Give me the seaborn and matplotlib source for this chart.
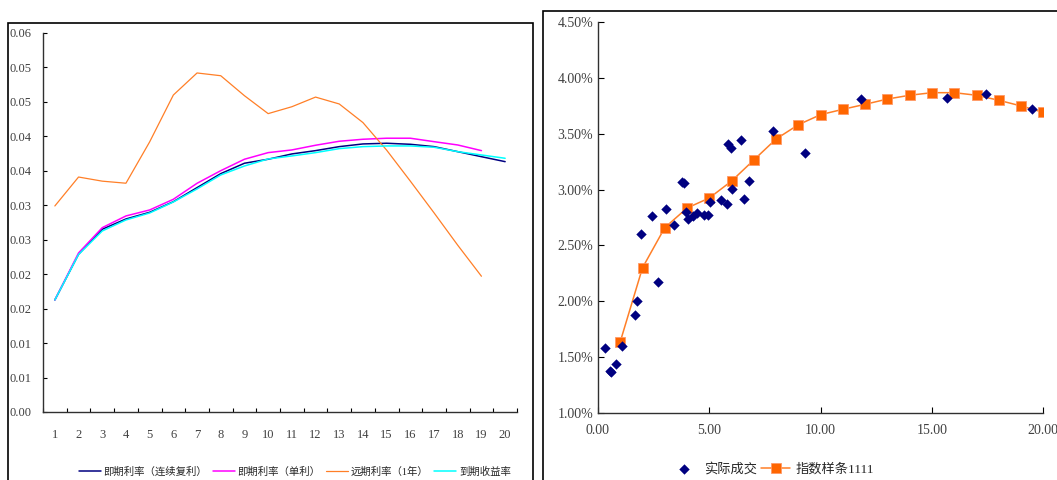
import matplotlib
matplotlib.use('Agg')
import matplotlib.pyplot as plt
from matplotlib.patches import Rectangle
from matplotlib.ticker import FuncFormatter, MultipleLocator, FixedLocator
import seaborn as sns
import pandas as pd

sns.set_style('white')
plt.rcParams['font.family'] = ['Liberation Serif', 'Noto Sans CJK SC', 'DejaVu Sans']
plt.rcParams['axes.unicode_minus'] = False

# 左图：期限结构
terms = list(range(1, 21))
spot_cont = [0.01626, 0.02289, 0.02652, 0.02801, 0.02898, 0.03052, 0.03256, 0.03459, 0.03610, 0.03668,
             0.03745, 0.03793, 0.03851, 0.03890, 0.03900, 0.03885, 0.03851, 0.03778, 0.03705, 0.03633]
spot_simple = [0.01626, 0.02308, 0.02675, 0.02845, 0.02932, 0.03087, 0.03319, 0.03502, 0.03668, 0.03764,
               0.03803, 0.03871, 0.03929, 0.03958, 0.03973, 0.03973, 0.03923, 0.03875, 0.03793]
forward_1y = [0.0299, 0.0341, 0.0335, 0.0332, 0.0392, 0.0460, 0.0492, 0.0488, 0.0459, 0.0433,
              0.0443, 0.0457, 0.0447, 0.0420, 0.0380, 0.0335, 0.0289, 0.0242, 0.0197]
ytm = [0.01626, 0.02286, 0.02627, 0.02787, 0.02888, 0.03048, 0.03237, 0.03440, 0.03570, 0.03672,
       0.03716, 0.03764, 0.03822, 0.03851, 0.03861, 0.03861, 0.03842, 0.03778, 0.03730, 0.03682]
series_names = ['即期利率（连续复利）', '即期利率（单利）', '远期利率（1年）', '到期收益率']
series_colors = ['#000080', '#FF00FF', '#FF7F27', '#00FFFF']

# 右图：实际成交与样条
deal_x = [0.33, 0.55, 0.60, 0.82, 1.06, 1.65, 1.75, 1.93, 2.44, 2.71, 3.07, 3.41, 3.77, 3.86, 3.94,
          4.06, 4.25, 4.43, 4.78, 4.93, 5.03, 5.53, 5.78, 5.85, 5.96, 6.01, 6.44, 6.56, 6.79, 7.86,
          9.29, 11.81, 15.69, 17.42, 19.51]
deal_y = [1.577, 1.377, 1.368, 1.439, 1.598, 1.876, 2.004, 2.600, 2.761, 2.174, 2.829, 2.680, 3.071,
          3.059, 2.799, 2.739, 2.763, 2.788, 2.772, 2.772, 2.892, 2.904, 2.868, 3.409, 3.370, 3.003,
          3.442, 2.913, 3.075, 3.526, 3.326, 3.810, 3.821, 3.854, 3.720]
spline_x = list(range(1, 21))
spline_y = [1.637, 2.300, 2.659, 2.835, 2.925, 3.077, 3.266, 3.454, 3.582, 3.672,
            3.720, 3.765, 3.812, 3.846, 3.869, 3.869, 3.846, 3.801, 3.750, 3.693]

rows = []
for name, vals in zip(series_names, [spot_cont, spot_simple, forward_1y, ytm]):
    for t, v in zip(terms, vals):
        rows.append({'term': t, 'rate': v, 'series': name})
curve_df = pd.DataFrame(rows)
deal_df = pd.DataFrame({'x': deal_x, 'y': [v / 100 for v in deal_y]})
spline_df = pd.DataFrame({'x': spline_x, 'y': [v / 100 for v in spline_y]})

fig = plt.figure(figsize=(10.57, 4.8), dpi=100)
tick_color = '#404040'

# 图表外框
fig.patches.append(Rectangle((8 / 1057, -0.1), 525 / 1057, 1.1 - 23 / 480, transform=fig.transFigure,
                             fill=False, edgecolor='black', linewidth=1.2))
fig.patches.append(Rectangle((543 / 1057, -0.1), 0.6, 1.1 - 10.7 / 480, transform=fig.transFigure,
                             fill=False, edgecolor='black', linewidth=1.2))

ax1 = fig.add_axes([43 / 1057, 1 - 412 / 480, 474 / 1057, 379 / 480])
sns.lineplot(data=curve_df, x='term', y='rate', hue='series', hue_order=series_names,
             palette=series_colors, linewidth=1.1, ax=ax1, legend=False)
for line, name in zip(ax1.get_lines(), series_names):
    line.set_label(name)
    if name == '远期利率（1年）':
        line.set_linewidth(0.9)
ax1.set_xlim(0.5, 20.5)
ax1.set_ylim(0, 0.055)
ax1.yaxis.set_major_locator(MultipleLocator(0.005))
ax1.yaxis.set_major_formatter(FuncFormatter(lambda v, p: f'{v + 1e-9:.2f}'))
ax1.xaxis.set_major_locator(FixedLocator([i + 0.5 for i in range(0, 21)]))
ax1.xaxis.set_minor_locator(FixedLocator(terms))
ax1.xaxis.set_major_formatter(FuncFormatter(lambda v, p: ''))
ax1.xaxis.set_minor_formatter(FuncFormatter(lambda v, p: f'{int(round(v))}'))
ax1.tick_params(axis='x', which='major', direction='in', length=3, color='black', bottom=True)
ax1.tick_params(axis='x', which='minor', length=0, pad=12, labelsize=9, labelcolor=tick_color)
ax1.tick_params(axis='y', direction='in', length=3, color='black', left=True, labelsize=9,
                labelcolor=tick_color, pad=24)
for lab in ax1.get_yticklabels():
    lab.set_horizontalalignment('left')
ax1.set_xlabel('')
ax1.set_ylabel('')
for s in ['top', 'right']:
    ax1.spines[s].set_visible(False)
for s in ['left', 'bottom']:
    ax1.spines[s].set_color('#303030')
    ax1.spines[s].set_linewidth(1.0)
fig.legend(handles=ax1.get_lines(), labels=series_names, loc='center',
           bbox_to_anchor=(295 / 1057, 1 - 472 / 480), ncol=4, frameon=False, fontsize=7.5,
           handlelength=2.1, columnspacing=0.55, handletextpad=0.25)

ax2 = fig.add_axes([598 / 1057, 1 - 412.7 / 480, 445.3 / 1057, 390.4 / 480])
sns.scatterplot(data=deal_df, x='x', y='y', marker='D', color='#000080', s=28,
                edgecolor='#000080', linewidth=0, ax=ax2, label='实际成交', zorder=3)
sns.lineplot(data=spline_df, x='x', y='y', marker='s', color='#FF7F27', markersize=7,
             markerfacecolor='#FF6600', markeredgecolor='#FF9966', markeredgewidth=0.6,
             linewidth=1.1, ax=ax2, label='指数样条1111', zorder=2)
ax2.set_xlim(0, 20)
ax2.set_ylim(0.01, 0.045)
ax2.xaxis.set_major_locator(MultipleLocator(5))
ax2.yaxis.set_major_locator(MultipleLocator(0.005))
ax2.xaxis.set_major_formatter(FuncFormatter(lambda v, p: f'{v:.2f}'))
ax2.yaxis.set_major_formatter(FuncFormatter(lambda v, p: f'{v * 100:.2f}%'))
ax2.tick_params(axis='both', direction='in', length=4, color='black', bottom=True, left=True,
                labelsize=10, labelcolor=tick_color)
ax2.tick_params(axis='x', pad=8)
ax2.set_xlabel('')
ax2.set_ylabel('')
for s in ['top', 'right']:
    ax2.spines[s].set_visible(False)
for s in ['left', 'bottom']:
    ax2.spines[s].set_color('#303030')
    ax2.spines[s].set_linewidth(1.0)
ax2.legend().remove()
h2, l2 = ax2.get_legend_handles_labels()
fig.legend(handles=h2, labels=l2, loc='center', bbox_to_anchor=(772 / 1057, 1 - 469 / 480),
           ncol=2, frameon=False, fontsize=9.5, handlelength=2.2, columnspacing=0.3,
           handletextpad=0.4)

fig.savefig('out.png', dpi=100)
